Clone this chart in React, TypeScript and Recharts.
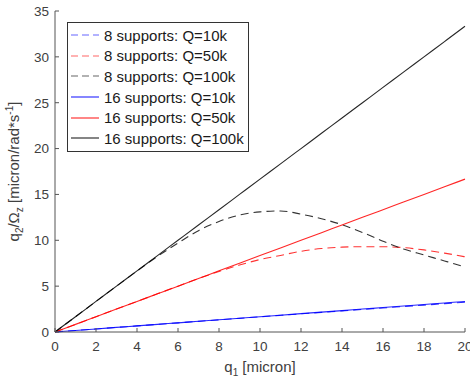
import { LineChart, Line, XAxis, YAxis, Legend } from 'recharts'

const xValues = [0, 1, 2, 3, 4, 5, 6, 7, 8, 9, 10, 11, 12, 13, 14, 15, 16, 17, 18, 19, 20]

const s8q10 = [0, 0.167, 0.333, 0.5, 0.667, 0.833, 1, 1.16, 1.33, 1.49, 1.66, 1.82, 1.98, 2.14, 2.3, 2.46, 2.62, 2.78, 2.93, 3.09, 3.24]
const s8q50 = [0, 0.833, 1.667, 2.5, 3.333, 4.167, 5, 5.83, 6.6, 7.3, 7.9, 8.35, 8.8, 9.1, 9.25, 9.3, 9.3, 9.2, 8.95, 8.6, 8.2]
const s8q100 = [0, 1.667, 3.333, 5, 6.65, 8.25, 9.7, 11.05, 12.05, 12.75, 13.1, 13.2, 12.85, 12.35, 11.7, 10.85, 9.9, 9.05, 8.4, 7.75, 7.1]
const s16q10 = [0, 0.167, 0.333, 0.5, 0.667, 0.833, 1, 1.167, 1.333, 1.5, 1.667, 1.833, 2, 2.167, 2.333, 2.5, 2.667, 2.833, 3, 3.167, 3.333]
const s16q50 = [0, 0.833, 1.667, 2.5, 3.333, 4.167, 5, 5.833, 6.667, 7.5, 8.333, 9.167, 10, 10.833, 11.667, 12.5, 13.333, 14.167, 15, 15.833, 16.667]
const s16q100 = [0, 1.667, 3.333, 5, 6.667, 8.333, 10, 11.667, 13.333, 15, 16.667, 18.333, 20, 21.667, 23.333, 25, 26.667, 28.333, 30, 31.667, 33.333]

const xTicks = [0, 2, 4, 6, 8, 10, 12, 14, 16, 18, 20]
const yTicks = [0, 5, 10, 15, 20, 25, 30, 35]

const series = [
  { key: 's8q10', name: '8 supports: Q=10k', color: '#0000ff', dashed: true, values: s8q10 },
  { key: 's8q50', name: '8 supports: Q=50k', color: '#ff0000', dashed: true, values: s8q50 },
  { key: 's8q100', name: '8 supports: Q=100k', color: '#000000', dashed: true, values: s8q100 },
  { key: 's16q10', name: '16 supports: Q=10k', color: '#0000ff', dashed: false, values: s16q10 },
  { key: 's16q50', name: '16 supports: Q=50k', color: '#ff0000', dashed: false, values: s16q50 },
  { key: 's16q100', name: '16 supports: Q=100k', color: '#000000', dashed: false, values: s16q100 },
]

const data = xValues.map((x, i) => {
  const row: Record<string, number> = { x }
  series.forEach(s => { row[s.key] = s.values[i] })
  return row
})

const FONT = '"Liberation Sans", Arial, sans-serif'
const AXIS = '#555555'
const TICK_TEXT = '#404040'

const renderLegend = () => (
  <div style={{
    border: '1px solid #333',
    background: '#fff',
    padding: '2px 4px 2px 2px',
    fontFamily: FONT,
    fontSize: 15,
    color: '#1a1a1a',
  }}>
    {series.map(s => (
      <div key={s.key} style={{ display: 'flex', alignItems: 'center', height: 20.6 }}>
        <svg width={30} height={10} style={{ marginRight: 4 }}>
          <line x1={1} y1={5} x2={29} y2={5} stroke={s.color} strokeOpacity={s.dashed ? 0.6 : 0.8}
            strokeWidth={1.2} strokeDasharray={s.dashed ? '7 4' : undefined} />
        </svg>
        <span style={{ whiteSpace: 'nowrap' }}>{s.name}</span>
      </div>
    ))}
  </div>
)

const renderYLabel = (props: any) => {
  const vb = props.viewBox
  const cx = vb.x + 19
  const cy = vb.y + vb.height / 2
  return (
    <text x={cx} y={cy} transform={`rotate(-90 ${cx} ${cy})`} textAnchor="middle"
      fontFamily={FONT} fontSize={15} fill={TICK_TEXT}>
      <tspan>q</tspan>
      <tspan fontSize={10} dy={4}>2</tspan>
      <tspan dy={-4}>/Ω</tspan>
      <tspan fontSize={10} dy={4}>z</tspan>
      <tspan dy={-4}> [micron/rad*s</tspan>
      <tspan fontSize={10} dy={-6}>-1</tspan>
      <tspan dy={6}>]</tspan>
    </text>
  )
}

const renderXLabel = (props: any) => {
  const vb = props.viewBox
  const cx = vb.x + vb.width / 2
  return (
    <text x={cx} y={vb.y + 40} textAnchor="middle" fontFamily={FONT} fontSize={15} fill={TICK_TEXT}>
      <tspan>q</tspan>
      <tspan fontSize={10} dy={4}>1</tspan>
      <tspan dy={-4}> [micron]</tspan>
    </text>
  )
}

export default function App() {
  return (
    <div style={{ position: 'absolute', left: 0, top: 0, background: '#fff' }}>
      <LineChart width={470} height={380} data={data}
        margin={{ top: 11, right: 5, bottom: 0, left: 0 }}>
        <XAxis dataKey="x" type="number" domain={[0, 20]} ticks={xTicks} interval={0}
          height={48} stroke={AXIS} tickSize={-4} tickMargin={13}
          tick={{ fill: TICK_TEXT, fontSize: 13.5, fontFamily: FONT }}
          label={{ value: 'q1 [micron]', content: renderXLabel }} />
        <XAxis xAxisId="top" dataKey="x" type="number" orientation="top" domain={[0, 20]}
          ticks={xTicks} interval={0} height={0} stroke={AXIS} tickSize={-4} tick={false} />
        <YAxis type="number" domain={[0, 35]} ticks={yTicks} interval={0} width={55}
          stroke={AXIS} tickSize={-4} tickMargin={10}
          tick={{ fill: TICK_TEXT, fontSize: 13.5, fontFamily: FONT }}
          label={{ value: 'q2/Ωz', content: renderYLabel }} />
        <YAxis yAxisId="right" type="number" orientation="right" domain={[0, 35]} ticks={yTicks}
          interval={0} width={0} stroke={AXIS} tickSize={-4} tick={false} />
        <Legend content={renderLegend} layout="horizontal" verticalAlign="middle" align="center"
          wrapperStyle={{ top: 22, left: 67, width: 'auto', bottom: 'auto' }} />
        {series.map(s => (
          <Line key={s.key} dataKey={s.key} name={s.name} type="monotone" stroke={s.color}
            strokeOpacity={s.dashed ? 0.8 : 0.85}
            strokeWidth={1.1} strokeDasharray={s.dashed ? '8 5' : undefined}
            dot={false} activeDot={false} isAnimationActive={false} />
        ))}
      </LineChart>
    </div>
  )
}
